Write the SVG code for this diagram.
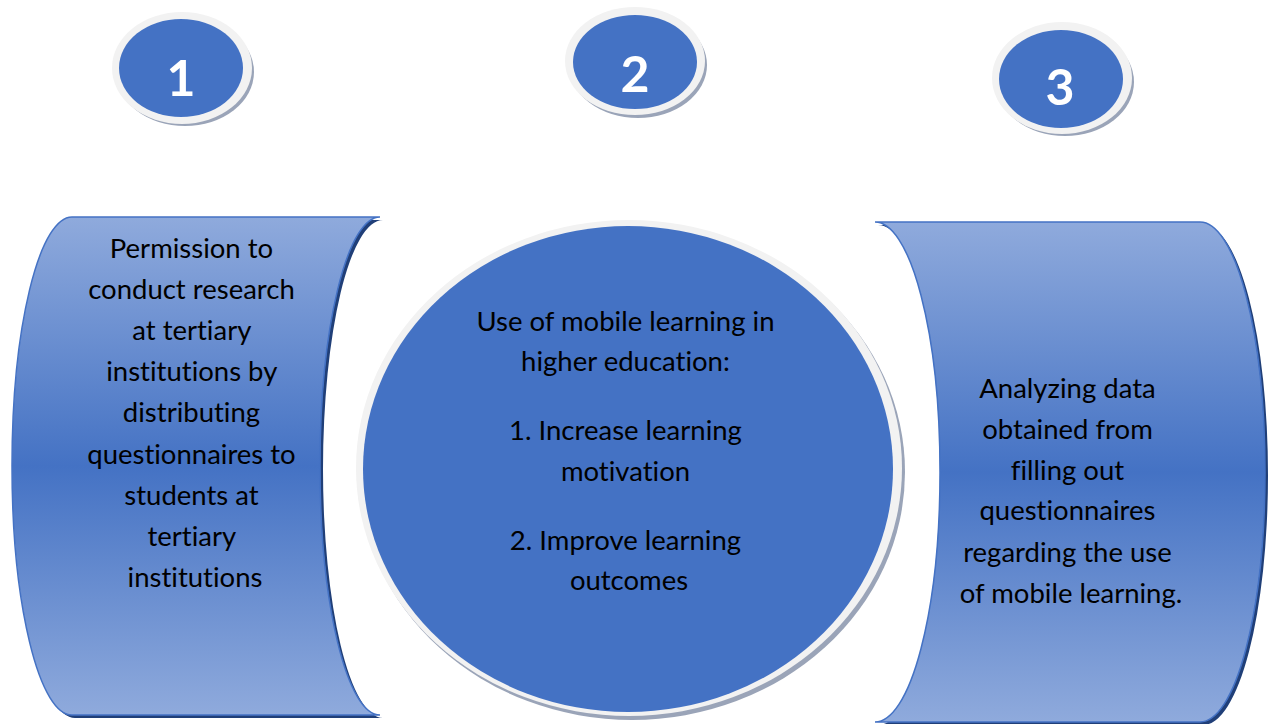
<svg xmlns="http://www.w3.org/2000/svg" width="1269" height="724" viewBox="0 0 1269 724">
  <defs>
    <linearGradient id="bandFill" x1="0" y1="0" x2="0" y2="1">
      <stop offset="0" stop-color="#8FAADC"/>
      <stop offset="0.5" stop-color="#4472C4"/>
      <stop offset="1" stop-color="#8FAADC"/>
    </linearGradient>
    <style>
      .band { fill: url(#bandFill); stroke: #4472C4; stroke-width: 1.5; }
      .band-shadow { fill: #203F78; }
      .ring { fill: #F2F2F2; }
      .ring-shadow { fill: #9AA4B8; }
      .disc { fill: #4472C4; }
      .num { font-family: Lato, "Liberation Sans", sans-serif; font-weight: 700; font-size: 50px; fill: #FFFFFF; text-anchor: middle; }
      .body { font-family: Lato, "Liberation Sans", sans-serif; font-size: 27.5px; fill: #000000; text-anchor: middle; font-variant-ligatures: none; font-feature-settings: "liga" 0, "clig" 0; }
    </style>
  </defs>

  <rect width="1269" height="724" fill="#FFFFFF"/>

  <!-- step badges -->
  <g id="badge-1">
    <ellipse class="ring-shadow" cx="185" cy="72" rx="69" ry="54"/>
    <ellipse class="ring" cx="182" cy="68" rx="70" ry="56"/>
    <ellipse class="disc" cx="181" cy="68" rx="62" ry="49"/>
    <text class="num" x="181" y="96">1</text>
  </g>
  <g id="badge-2">
    <ellipse class="ring-shadow" cx="638" cy="65" rx="69" ry="53"/>
    <ellipse class="ring" cx="635" cy="61" rx="70" ry="54"/>
    <ellipse class="disc" cx="635" cy="62" rx="62" ry="47"/>
    <text class="num" x="635" y="92">2</text>
  </g>
  <g id="badge-3">
    <ellipse class="ring-shadow" cx="1065" cy="82" rx="69" ry="54"/>
    <ellipse class="ring" cx="1062" cy="78" rx="70" ry="56"/>
    <ellipse class="disc" cx="1061" cy="79" rx="62" ry="49"/>
    <text class="num" x="1060" y="105">3</text>
  </g>

  <!-- step 1: curved band bowing left -->
  <g id="step-1">
    <path class="band-shadow" transform="translate(3,3)" d="M72,217 L380,217 A60,249 0 0 0 380,715 L72,715 A60,249 0 0 1 72,217 Z"/>
    <path class="band" d="M72,217 L380,217 A60,249 0 0 0 380,715 L72,715 A60,249 0 0 1 72,217 Z"/>
    <text class="body">
      <tspan x="195" y="258">Permission to</tspan>
      <tspan x="195" y="299">conduct research</tspan>
      <tspan x="195" y="340">at tertiary</tspan>
      <tspan x="195" y="381">institutions by</tspan>
      <tspan x="195" y="422">distributing</tspan>
      <tspan x="195" y="464">questionnaires to</tspan>
      <tspan x="195" y="505">students at</tspan>
      <tspan x="195" y="546">tertiary</tspan>
      <tspan x="195" y="587">institutions</tspan>
    </text>
  </g>

  <!-- step 2: central disc -->
  <g id="step-2">
    <ellipse class="ring-shadow" cx="632" cy="472" rx="273" ry="248"/>
    <ellipse class="ring" cx="629" cy="468" rx="273" ry="248"/>
    <ellipse class="disc" cx="628" cy="469" rx="265" ry="243"/>
    <text class="body">
      <tspan x="629" y="331">Use of mobile learning in</tspan>
      <tspan x="629" y="371">higher education:</tspan>
      <tspan x="629" y="440">1. Increase learning</tspan>
      <tspan x="629" y="481">motivation</tspan>
      <tspan x="629" y="550">2. Improve learning</tspan>
      <tspan x="629" y="590">outcomes</tspan>
    </text>
  </g>

  <!-- step 3: curved band bowing right -->
  <g id="step-3">
    <path class="band-shadow" transform="translate(3,3)" d="M875,222 L1200,222 A65,250 0 0 1 1200,722 L875,722 A65,250 0 0 0 875,222 Z"/>
    <path class="band" d="M875,222 L1200,222 A65,250 0 0 1 1200,722 L875,722 A65,250 0 0 0 875,222 Z"/>
    <text class="body">
      <tspan x="1071" y="398">Analyzing data</tspan>
      <tspan x="1071" y="439">obtained from</tspan>
      <tspan x="1071" y="480">filling out</tspan>
      <tspan x="1071" y="520">questionnaires</tspan>
      <tspan x="1071" y="562">regarding the use</tspan>
      <tspan x="1071" y="603">of mobile learning.</tspan>
    </text>
  </g>

  <!-- no connectors are drawn between the steps -->
  <g id="connectors"/>
</svg>
